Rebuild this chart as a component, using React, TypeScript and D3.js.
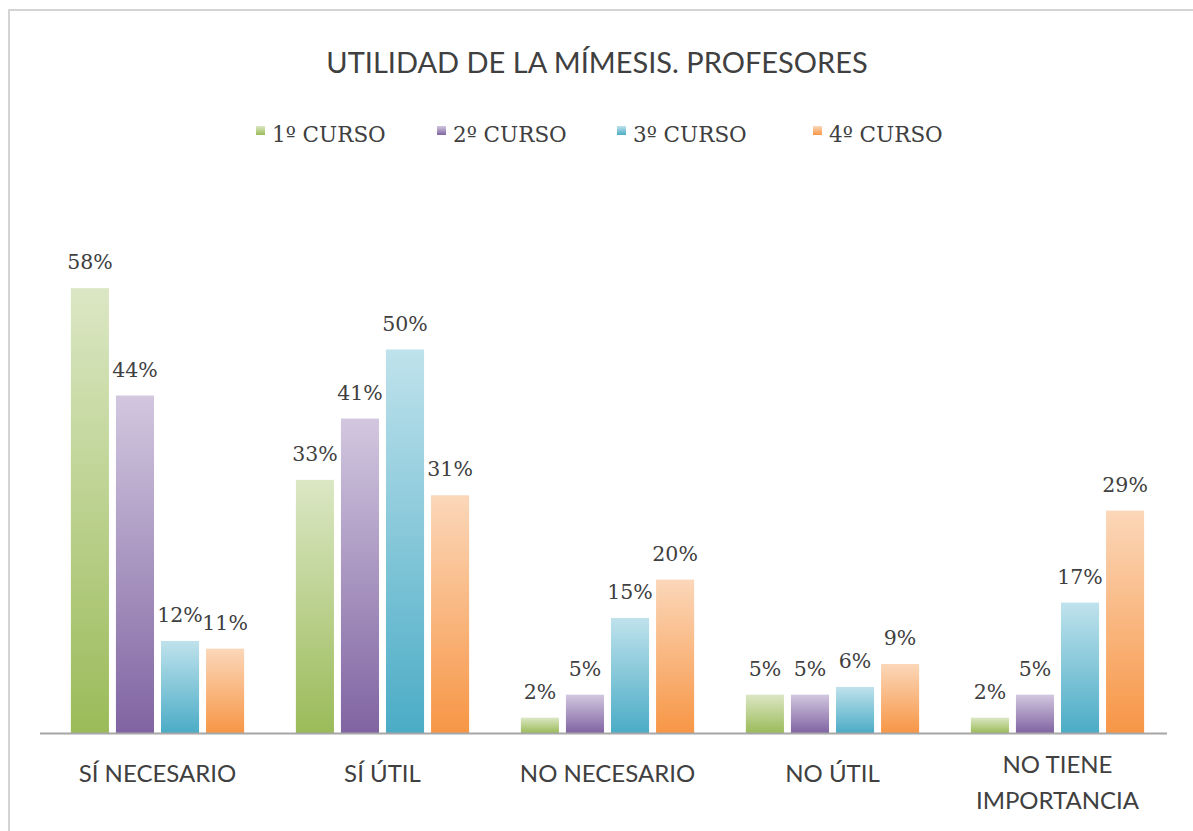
import { useEffect, useRef } from "react"
import * as d3 from "d3"

const categories = ["SÍ NECESARIO", "SÍ ÚTIL", "NO NECESARIO", "NO ÚTIL", "NO TIENE\nIMPORTANCIA"]
const seriesNames = ["1º CURSO", "2º CURSO", "3º CURSO", "4º CURSO"]
const curso1 = [58, 33, 2, 5, 2]
const curso2 = [44, 41, 5, 5, 5]
const curso3 = [12, 50, 15, 6, 17]
const curso4 = [11, 31, 20, 9, 29]
const seriesValues = [curso1, curso2, curso3, curso4]

const colorsDark = ["#9bbb59", "#8064a2", "#4bacc6", "#f79646"]
const colorsLight = ["#dbe7c4", "#d2c7df", "#bfe2ec", "#fbd7b9"]

const W = 1193
const H = 831

export default function App() {
  const svgRef = useRef<SVGSVGElement>(null)

  useEffect(() => {
    const svg = d3.select(svgRef.current)
    svg.selectAll("*").remove()

    svg.append("rect").attr("width", W).attr("height", H).attr("fill", "#ffffff")

    // gradients, light at the top and saturated at the base
    const defs = svg.append("defs")
    seriesNames.forEach((_, i) => {
      const grad = defs
        .append("linearGradient")
        .attr("id", `grad${i}`)
        .attr("x1", 0)
        .attr("y1", 0)
        .attr("x2", 0)
        .attr("y2", 1)
      grad.append("stop").attr("offset", "0%").attr("stop-color", colorsLight[i])
      grad.append("stop").attr("offset", "100%").attr("stop-color", colorsDark[i])
    })

    // frame
    svg
      .append("path")
      .attr("d", `M9,${H + 5}V10H${W + 5}`)
      .attr("fill", "none")
      .attr("stroke", "#d4d4d4")
      .attr("stroke-width", 2)

    const baseY = 733
    const x0 = d3.scaleBand().domain(categories).range([45, 1170]).paddingInner(0.23).paddingOuter(0.115)
    const x1 = d3
      .scaleBand()
      .domain(seriesNames)
      .range([0, x0.bandwidth()])
      .paddingInner(0.155)
    const y = d3.scaleLinear().domain([0, 70]).range([baseY, baseY - 70 * 7.67])

    // title
    svg
      .append("text")
      .attr("x", 597)
      .attr("y", 73)
      .attr("text-anchor", "middle")
      .style("font-family", "Lato, sans-serif")
      .style("font-size", "29px")
      .attr("fill", "#404040")
      .text("UTILIDAD DE LA MÍMESIS. PROFESORES")

    // legend
    const legendX = [256, 437, 617, 813]
    const legend = svg.append("g")
    seriesNames.forEach((s, i) => {
      legend
        .append("rect")
        .attr("x", legendX[i])
        .attr("y", 126)
        .attr("width", 9)
        .attr("height", 9)
        .attr("fill", `url(#grad${i})`)
      legend
        .append("text")
        .attr("x", legendX[i] + 16)
        .attr("y", 142)
        .style("font-family", "'DejaVu Serif', serif")
        .style("font-size", "21.5px")
        .attr("fill", "#404040")
        .text(s)
    })

    // bars
    const groups = svg
      .append("g")
      .selectAll("g")
      .data(categories)
      .join("g")
      .attr("transform", (d) => `translate(${x0(d)},0)`)

    groups.each(function (cat, ci) {
      const g = d3.select(this)
      seriesNames.forEach((s, si) => {
        const v = seriesValues[si][ci]
        g.append("rect")
          .attr("x", x1(s)!)
          .attr("y", y(v))
          .attr("width", x1.bandwidth())
          .attr("height", baseY - y(v))
          .attr("fill", `url(#grad${si})`)
        g.append("text")
          .attr("x", x1(s)! + x1.bandwidth() / 2)
          .attr("y", y(v) - 19)
          .attr("text-anchor", "middle")
          .style("font-family", "'DejaVu Serif', serif")
          .style("font-size", "20.5px")
          .attr("fill", "#404040")
          .text(`${v}%`)
      })
    })

    // axis line
    svg
      .append("line")
      .attr("x1", 40)
      .attr("x2", 1167)
      .attr("y1", baseY + 0.5)
      .attr("y2", baseY + 0.5)
      .attr("stroke", "#a6a6a6")
      .attr("stroke-width", 2)

    // category labels
    categories.forEach((c) => {
      const lines = c.split("\n")
      const cx = x0(c)! + x0.bandwidth() / 2
      const startY = lines.length > 1 ? 773 : 782
      lines.forEach((ln, li) => {
        svg
          .append("text")
          .attr("x", cx)
          .attr("y", startY + li * 36)
          .attr("text-anchor", "middle")
          .style("font-family", "Lato, sans-serif")
          .style("font-size", "24px")
          .attr("fill", "#404040")
          .text(ln)
      })
    })
  }, [])

  return (
    <svg
      ref={svgRef}
      width={W}
      height={H}
      style={{ position: "absolute", left: 0, top: 0, display: "block" }}
    />
  )
}
